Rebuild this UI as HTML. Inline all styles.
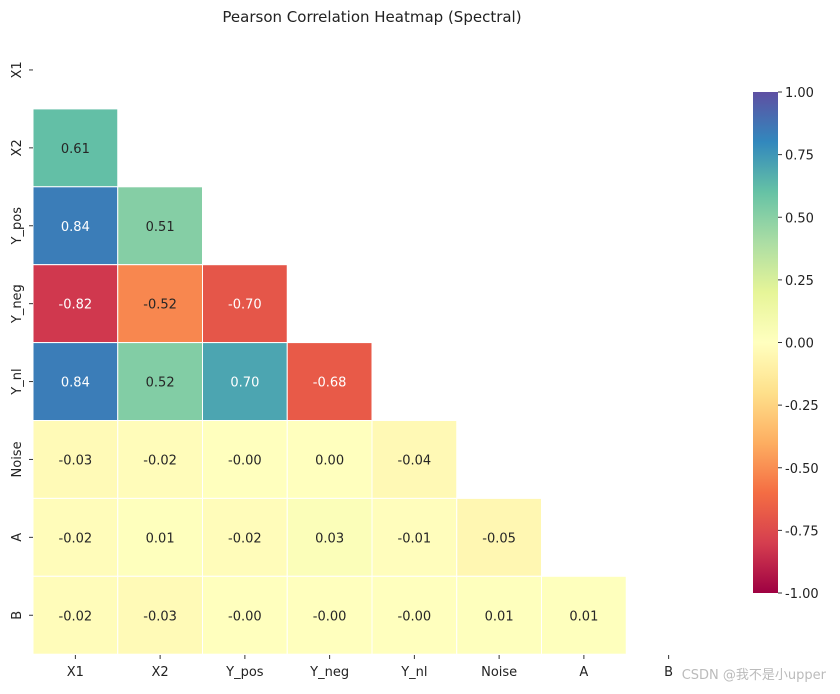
<!DOCTYPE html>
<html><head><meta charset="utf-8"><style>
body{margin:0;background:#fff;width:840px;height:689px;overflow:hidden;font-family:"Liberation Sans","DejaVu Sans",sans-serif}
svg text{font-family:"DejaVu Sans","Liberation Sans","Noto Sans CJK SC",sans-serif}
</style></head><body>
<svg id="chart" width="840" height="689" xmlns="http://www.w3.org/2000/svg">
<text x="372" y="22" text-anchor="middle" font-size="15" fill="#222">Pearson Correlation Heatmap (Spectral)</text>
<g id="cells"></g><g id="axes"></g>
<defs><linearGradient id="cbg" x1="0" y1="1" x2="0" y2="0"></linearGradient></defs>
<rect x="753" y="92" width="25" height="501" fill="url(#cbg)"/>
<g id="cbticks"></g>
<text x="826" y="679" text-anchor="end" font-size="13" fill="#bbb">CSDN @我不是小upper</text>
</svg>
<script>
const labels=["X1","X2","Y_pos","Y_neg","Y_nl","Noise","A","B"];
const row1=[0.61];
const row2=[0.84,0.51];
const row3=[-0.82,-0.52,-0.70];
const row4=[0.84,0.52,0.70,-0.68];
const row5=[-0.03,-0.02,-0.003,0.003,-0.04];
const row6=[-0.02,0.01,-0.02,0.03,-0.01,-0.05];
const row7=[-0.02,-0.03,-0.003,-0.003,-0.003,0.01,0.01];
const rows=[[],row1,row2,row3,row4,row5,row6,row7];
const cbTicks=[1,0.75,0.5,0.25,0,-0.25,-0.5,-0.75,-1];
const stops=["#9e0142","#d53e4f","#f46d43","#fdae61","#fee08b","#ffffbf","#e6f598","#abdda4","#66c2a5","#3288bd","#5e4fa2"];
const NS="http://www.w3.org/2000/svg";
const L=33,T=31,CW=84.75,CH=77.9;
const xPos=i=>L+i*CW, yPos=i=>T+i*CH;
const cbY=v=>92+(1-v)/2*501;
function hex(h){return [1,3,5].map(i=>parseInt(h.substr(i,2),16));}
function color(v){let t=(v+1)/2*10;let i=Math.max(0,Math.min(9,Math.floor(t))),f=t-i;let a=hex(stops[i]),b=hex(stops[i+1]);return a.map((c,k)=>Math.round(c+(b[k]-c)*f));}
function fmt(v){const s=v.toFixed(2);return (v<0&&s==="0.00")?"-0.00":s;}
function el(tag,attrs,parent){const e=document.createElementNS(NS,tag);for(const k in attrs)e.setAttribute(k,attrs[k]);parent.appendChild(e);return e;}
const cells=document.getElementById('cells');
rows.forEach((r,ri)=>r.forEach((v,ci)=>{
 const c=color(v);
 const rect=el('rect',{x:xPos(ci),y:yPos(ri),width:CW,height:CH,fill:`rgb(${c})`,stroke:'#fff','stroke-width':1},cells);
 
 
 const t=el('text',{x:xPos(ci)+CW/2,y:yPos(ri)+CH/2+5,'text-anchor':'middle','font-size':13,fill:Math.abs(v)>=0.65?'#fff':'#262626'},cells);
 t.textContent=fmt(v);
 
 
}));
const axes=document.getElementById('axes');
labels.forEach((lb,i)=>{
 const cx=xPos(i)+CW/2, cy=yPos(i)+CH/2;
 el('line',{x1:cx,y1:655,x2:cx,y2:659,stroke:'#333'},axes);
 const t=el('text',{x:cx,y:676,'text-anchor':'middle','font-size':13,fill:'#222'},axes);
 t.textContent=lb;
 
 
 el('line',{x1:29,y1:cy,x2:33,y2:cy,stroke:'#333'},axes);
 const ty=el('text',{x:0,y:0,'text-anchor':'middle','font-size':13,fill:'#222',transform:`translate(21,${cy}) rotate(-90)`},axes);
 ty.textContent=lb;
 
 
});
const g=document.getElementById('cbg');
for(let k=0;k<=20;k++){const v=-1+k/10;el('stop',{offset:(k/20),'stop-color':`rgb(${color(v)})`},g);}
const cbt=document.getElementById('cbticks');
cbTicks.forEach(v=>{
 const y=cbY(v);
 el('line',{x1:778,y1:y,x2:782,y2:y,stroke:'#333'},cbt);
 const t=el('text',{x:785,y:y+5,'font-size':13,fill:'#222'},cbt);
 t.textContent=v.toFixed(2);
 
 
});
</script>
</body></html>
